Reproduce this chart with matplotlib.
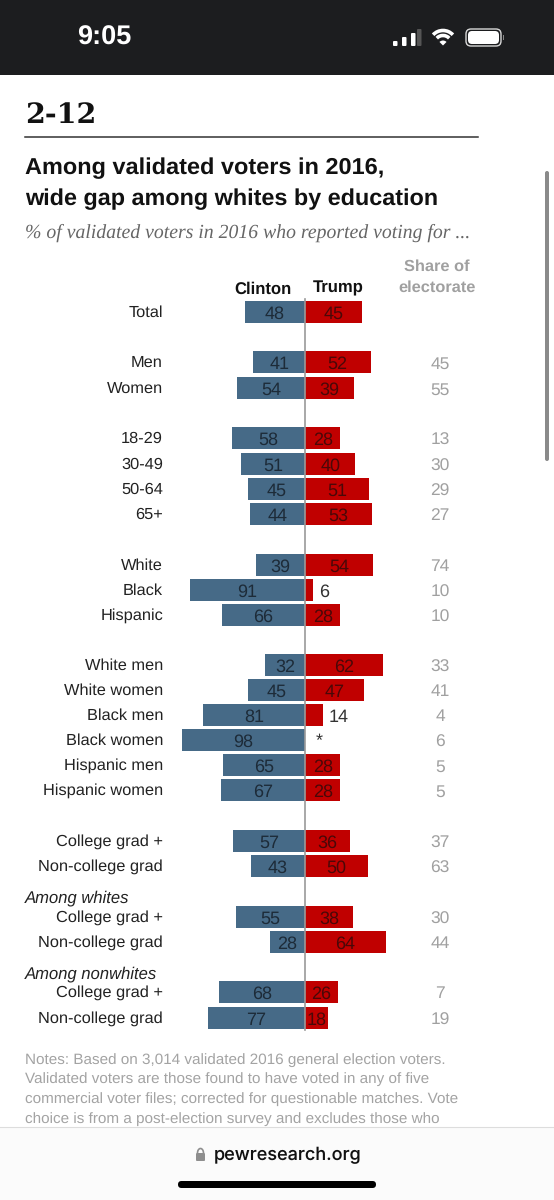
import matplotlib
matplotlib.use("Agg")
import matplotlib.pyplot as plt
from matplotlib.patches import Rectangle, FancyBboxPatch, Arc, Wedge

plt.rcParams['text.hinting'] = 'no_hinting'

W, H = 554, 1200

# values
labels = ["Total", "Men", "Women", "18-29", "30-49", "50-64", "65+", "White", "Black", "Hispanic",
          "White men", "White women", "Black men", "Black women", "Hispanic men", "Hispanic women",
          "College grad +", "Non-college grad", "College grad +", "Non-college grad",
          "College grad +", "Non-college grad"]
clinton = [48, 41, 54, 58, 51, 45, 44, 39, 91, 66, 32, 45, 81, 98, 65, 67, 57, 43, 55, 28, 68, 77]
trump = [45, 52, 39, 28, 40, 51, 53, 54, 6, 28, 62, 47, 14, None, 28, 28, 36, 50, 38, 64, 26, 18]
share = [None, 45, 55, 13, 30, 29, 27, 74, 10, 10, 33, 41, 4, 6, 5, 5, 37, 63, 30, 44, 7, 19]

# row centres in pixels
row_y = [312, 362, 388, 438, 464, 489, 514, 565, 590, 615, 665, 690, 715, 740, 765, 790,
         841, 866, 917, 942, 992, 1018]

notes = ["Notes: Based on 3,014 validated 2016 general election voters.",
         "Validated voters are those found to have voted in any of five",
         "commercial voter files; corrected for questionable matches. Vote",
         "choice is from a post-election survey and excludes those who"]
notes_y = [1060, 1079, 1099, 1119]

BLUE = "#466a87"
RED = "#c00000"
SANS = "Liberation Sans"

fig = plt.figure(figsize=(W / 100, H / 100), dpi=100)

# page in pixel coordinates
page = fig.add_axes([0, 0, 1, 1])
page.set_xlim(0, W)
page.set_ylim(H, 0)
page.axis("off")

# phone status bar
page.add_patch(Rectangle((0, 0), W, 75, color="#1c1d1f", lw=0))
page.text(104, 38, "9:05", color="white", fontsize=19.5, fontweight="bold", family=SANS,
          ha="center", va="center")
for x, top, col in zip([393, 402, 411, 417], [41, 37, 33, 29], ["w", "w", "w", "#555555"]):
    page.add_patch(FancyBboxPatch((x, top), 4.5, 46 - top, boxstyle="round,pad=0,rounding_size=1", color=col, lw=0))
for d in [27, 17]:
    page.add_patch(Arc((443, 44), d, d, theta1=223, theta2=317, color="white", lw=2.6))
page.add_patch(Wedge((443, 45.5), 5, 225, 315, color="white", lw=0))
page.add_patch(FancyBboxPatch((466, 29), 35, 17, boxstyle="round,pad=0,rounding_size=5", fc="none", ec="#d8d8d8", lw=1))
page.add_patch(FancyBboxPatch((468, 31), 31, 13, boxstyle="round,pad=0,rounding_size=4", color="white", lw=0))
page.add_patch(Rectangle((503, 35), 1.2, 5, color="#888888", lw=0))

# header
page.text(25, 115, "2-12", fontsize=20.5, fontweight="bold", family="DejaVu Serif", va="center", color="#111111")
page.plot([25, 478], [137, 137], color="#333333", lw=1.1)
page.text(25, 168, "Among validated voters in 2016,", fontsize=16.9, fontweight="bold", family=SANS, va="center", color="#111111")
page.text(25, 199, "wide gap among whites by education", fontsize=16.8, fontweight="bold", family=SANS, va="center", color="#111111")
page.text(25, 233, "% of validated voters in 2016 who reported voting for ...", fontsize=14.2, style="italic",
          family="Liberation Serif", va="center", color="#666666")

# column heads
page.text(263, 289, "Clinton", fontsize=12, fontweight="bold", family=SANS, ha="center", va="center", color="#111111")
page.text(338, 288, "Trump", fontsize=12, fontweight="bold", family=SANS, ha="center", va="center", color="#111111")
page.text(437, 267, "Share of", fontsize=11.8, fontweight="bold", family=SANS, ha="center", va="center", color="#a0a0a0")
page.text(437, 288, "electorate", fontsize=11.8, fontweight="bold", family=SANS, ha="center", va="center", color="#a0a0a0")

# bars, x axis in percentage points
px_per_point = 1.26
bar_left, bar_right, zero = 170, 400, 305
bars = fig.add_axes([bar_left / W, 0, (bar_right - bar_left) / W, 1])
bars.set_xlim((bar_left - zero) / px_per_point, (bar_right - zero) / px_per_point)
bars.set_ylim(H, 0)
bars.axis("off")
bars.patch.set_alpha(0)

bars.barh(row_y, [-c for c in clinton], height=22, color=BLUE, lw=0)
bars.barh(row_y, [t or 0 for t in trump], height=22, color=RED, lw=0)
bars.plot([0, 0], [299, 1030], color="#9a9a9a", lw=1.2)

for y, c, t in zip(row_y, clinton, trump):
    bars.text(-c / 2, y + 2, str(c), fontsize=13, family=SANS, ha="center", va="center", color="#1d2b38")
    if t is None:
        bars.text(11, y + 1, "*", fontsize=13, family=SANS, ha="center", va="center", color="#333333")
    elif t < 18:
        bars.text(t + 5, y + 2, str(t), fontsize=13, family=SANS, ha="left", va="center", color="#333333")
    else:
        bars.text(t / 2, y + 2, str(t), fontsize=13, family=SANS, ha="center", va="center", color="#4a0808")

# row labels and electorate share
for y, lab, s in zip(row_y, labels, share):
    page.text(163, y + 1, lab, fontsize=11.8, family=SANS, ha="right", va="center", color="#222222")
    if s is not None:
        page.text(440, y + 2, str(s), fontsize=12.5, family=SANS, ha="center", va="center", color="#a0a0a0")
page.text(25, 898, "Among whites", fontsize=12, style="italic", family=SANS, va="center", color="#222222")
page.text(25, 974, "Among nonwhites", fontsize=12, style="italic", family=SANS, va="center", color="#222222")

for y, line in zip(notes_y, notes):
    page.text(25, y, line, fontsize=11, family=SANS, va="center", color="#a3a3a3")

# scrollbar
page.add_patch(FancyBboxPatch((545, 171), 4, 290, boxstyle="round,pad=0,rounding_size=2", color="#8a8a8a", lw=0))

# browser bar
page.add_patch(Rectangle((0, 1127), W, 73, color="#fbfbfb", lw=0, zorder=5))
page.plot([0, W], [1127, 1127], color="#dddddd", lw=0.8, zorder=6)
page.add_patch(FancyBboxPatch((196, 1153), 9, 8, boxstyle="round,pad=0,rounding_size=1", color="#8e8e8e", lw=0, zorder=6))
page.add_patch(Arc((200.5, 1153), 6, 9, theta1=180, theta2=360, color="#8e8e8e", lw=1.2, zorder=6))
page.text(214, 1155, "pewresearch.org", fontsize=13, fontweight="medium", family="Inter", va="center", color="#111111", zorder=6)
page.add_patch(FancyBboxPatch((178, 1181), 198, 7, boxstyle="round,pad=0,rounding_size=3.5", color="black", lw=0, zorder=6))

fig.savefig("out.png", dpi=100)
